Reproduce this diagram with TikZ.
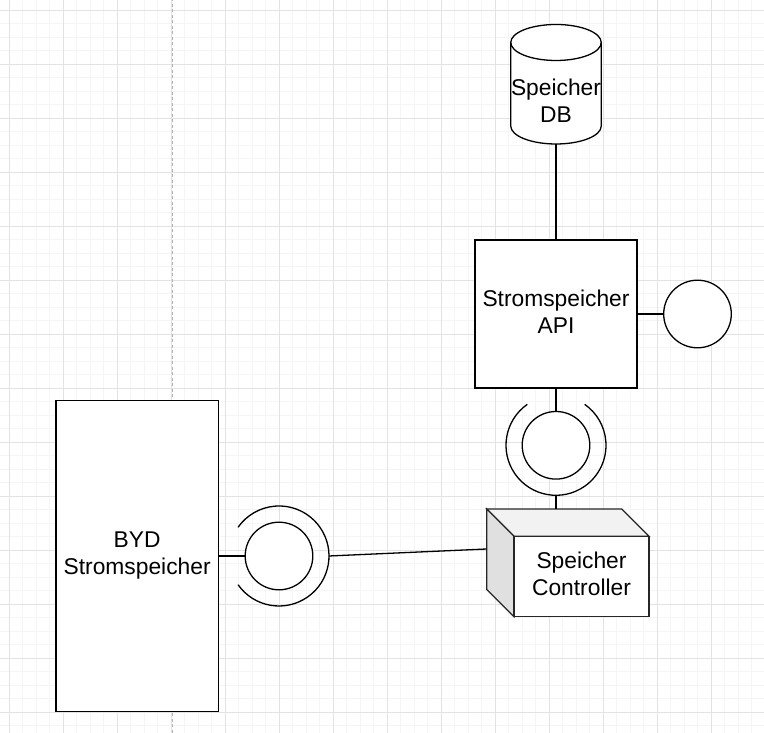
\documentclass[tikz,border=0pt]{standalone}
\usepackage{fontspec}
\usetikzlibrary{calc}
\setmainfont{Liberation Sans}
\begin{document}
\begin{tikzpicture}[x=1pt,y=1pt,
  gridminor/.style={draw=black!4, line width=0.8pt},
  gridmajor/.style={draw=black!11, line width=0.8pt},
  guide/.style={draw=black!30, dash pattern=on 3pt off 2.5pt, line width=1pt},
  shapeline/.style={draw=black, line width=1.3pt, fill=white},
  conn/.style={draw=black, line width=1.3pt},
  lbl/.style={font=\fontsize{22.8}{27}\selectfont, align=center, text depth=5pt, inner sep=0pt},
  ifc/.style={circle, shapeline, minimum size=67.6pt, inner sep=0pt},
  box/.style={rectangle, shapeline, inner sep=0pt}]
\useasboundingbox (0,0) rectangle (764,733);
\fill[white] (0,0) rectangle (764,733);
% grid
\foreach \i in {0,...,55} \draw[gridminor] ({9.3+13.5*\i},0) -- ++(0,733);
\foreach \i in {0,...,53} \draw[gridminor] (0,{722.7-13.5*\i}) -- ++(764,0);
\foreach \i in {0,...,13} \draw[gridmajor] ({9.3+54*\i},0) -- ++(0,733);
\foreach \i in {0,...,13} \draw[gridmajor] (0,{722.7-54*\i}) -- ++(764,0);
\draw[guide] (172.3,0) -- (172.3,733);

% Speicher DB cylinder
\node[rectangle, minimum width=90.5pt, minimum height=119.5pt, inner sep=0pt] (db) at (556,648.75) {};
\filldraw[shapeline] (510.75,690.5) arc[start angle=180, end angle=0, x radius=45.25, y radius=18]
  -- (601.25,607) arc[start angle=0, end angle=-180, x radius=45.25, y radius=18] -- cycle;
\draw[conn] (510.75,690.5) arc[start angle=180, end angle=360, x radius=45.25, y radius=18];
\node[lbl] (dbtxt) at (556,630.2) {Speicher\\DB};

% Stromspeicher API
\node[box, minimum width=162pt, minimum height=148pt, lbl] (api) at (556,419) {Stromspeicher\\API};
\node[ifc] (iface) at (697.5,419) {};

% lollipop between API and controller
\node[ifc] (l1in) at (556,287.7) {};
\draw[conn] (l1in.center) ++(125:50) arc[start angle=125, end angle=415, radius=50];
\coordinate (l1out) at ($(l1in.center)+(0,-50)$);

% BYD Stromspeicher
\node[box, minimum width=162.3pt, minimum height=311.4pt, lbl] (byd) at (137.15,177) {BYD\\Stromspeicher};

% lollipop between BYD and controller
\node[ifc] (l2in) at (279,177) {};
\draw[conn] (l2in.center) ++(215:50) arc[start angle=215, end angle=505, radius=50];
\coordinate (l2out) at (329,177);

% Speicher Controller cube
\node[rectangle, minimum width=162.3pt, minimum height=107.7pt, inner sep=0pt] (ctrl) at (567.85,170.15) {};
\begin{scope}[line width=1.3pt, draw=black!85, line join=miter]
\filldraw[fill=black!5] (486.7,224) -- (621.7,224) -- (649,196.7) -- (514,196.7) -- cycle;
\filldraw[fill=black!12] (486.7,224) -- (514,196.7) -- (514,116.3) -- (486.7,143.6) -- cycle;
\filldraw[fill=white] (514,196.7) -- (649,196.7) -- (649,116.3) -- (514,116.3) -- cycle;
\end{scope}
\node[lbl] (ctrltxt) at (581.5,156.5) {Speicher\\Controller};
\coordinate (ctrlin) at (486.7,184);

% connectors
\draw[conn] (db.south) -- (db.south |- api.north);
\draw[conn] (api.east) -- (iface.west);
\draw[conn] (api.south) -- (l1in.north);
\draw[conn] (l1out) -- (l1out |- ctrl.north);
\draw[conn] (byd.east) -- (l2in.west);
\draw[conn] (l2out) -- (ctrlin);
\end{tikzpicture}
\end{document}
